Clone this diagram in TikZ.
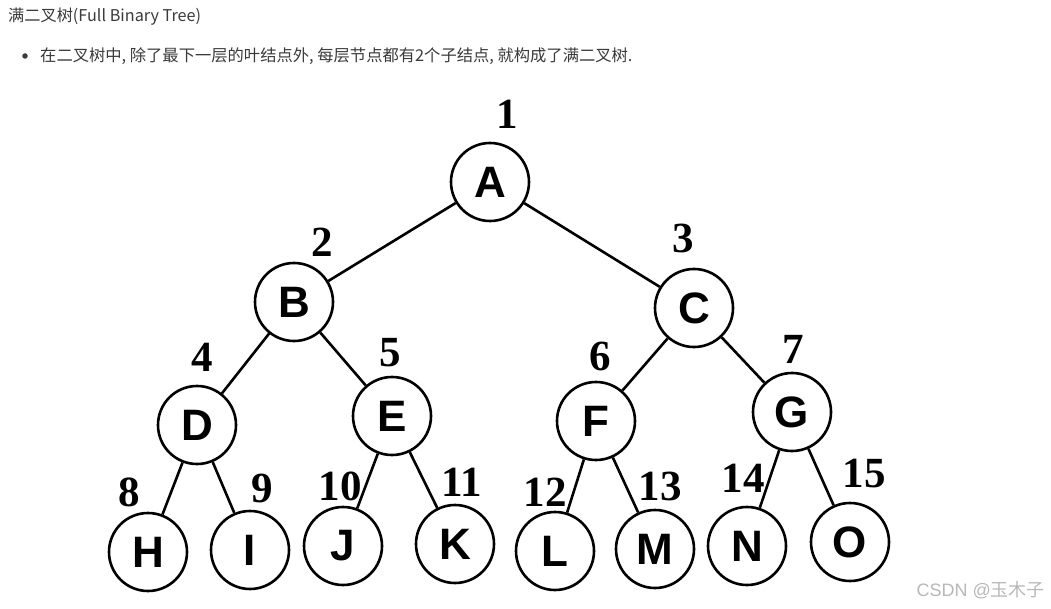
\documentclass[tikz,border=0pt]{standalone}
\usepackage{fontspec}
\setmainfont{Liberation Serif}
\newfontfamily\cjk{Noto Sans CJK SC}
\newfontfamily\arialb{Liberation Sans}[BoldFont={Liberation Sans Bold}]
\newfontfamily\timesb{Liberation Serif Bold}
\definecolor{hdr}{HTML}{3A3A3A}
\definecolor{wm}{HTML}{B8B8B8}
\begin{document}
\begin{tikzpicture}[x=1pt,y=-1pt,
  tn/.style={circle,draw=black,line width=2.6pt,minimum size=78pt,inner sep=0pt,fill=white,
    font=\arialb\bfseries\fontsize{44}{44}\selectfont},
  num/.style={font=\timesb\fontsize{43}{43}\selectfont,inner sep=0pt},
  edge/.style={line width=2.6pt,black}]
\useasboundingbox[fill=white] (0,0) rectangle (1051,609);
\node[anchor=west,text=hdr,font=\cjk\fontsize{16.2}{16}\selectfont,inner sep=0pt] (title) at (8,17) {满二叉树(Full Binary Tree)};
\node[circle,fill=hdr,inner sep=0pt,minimum size=5.5pt] (bul) at (25,56) {};
\node[anchor=west,text=hdr,font=\cjk\fontsize{16.3}{16}\selectfont,inner sep=0pt] (desc) at (40,56) {在二叉树中, 除了最下一层的叶结点外, 每层节点都有2个子结点, 就构成了满二叉树.};
% nodes
\node[tn] (A) at (490,182) {A};
\node[tn] (B) at (294,302) {B};
\node[tn] (C) at (694,308) {C};
\node[tn] (D) at (197,425) {D};
\node[tn] (E) at (392,416) {E};
\node[tn] (F) at (596,421) {F};
\node[tn] (G) at (792,412) {G};
\node[tn] (H) at (148,552) {H};
\node[tn] (I) at (250,550) {I};
\node[tn] (J) at (343,546) {J};
\node[tn] (K) at (455,544) {K};
\node[tn] (L) at (555,551) {L};
\node[tn] (M) at (655,549) {M};
\node[tn] (N) at (747,546) {N};
\node[tn] (O) at (850,542) {O};
% edges
\draw[edge] (A) -- (B);
\draw[edge] (A) -- (C);
\draw[edge] (B) -- (D);
\draw[edge] (B) -- (E);
\draw[edge] (C) -- (F);
\draw[edge] (C) -- (G);
\draw[edge] (D) -- (H);
\draw[edge] (D) -- (I);
\draw[edge] (E) -- (J);
\draw[edge] (E) -- (K);
\draw[edge] (F) -- (L);
\draw[edge] (F) -- (M);
\draw[edge] (G) -- (N);
\draw[edge] (G) -- (O);
% numbers
\node[num] (n1) at (507,114) {1};
\node[num] (n2) at (322,242) {2};
\node[num] (n3) at (683,238) {3};
\node[num] (n4) at (202,357) {4};
\node[num] (n5) at (390,353) {5};
\node[num] (n6) at (600,356) {6};
\node[num] (n7) at (793,349) {7};
\node[num] (n8) at (129,492) {8};
\node[num] (n9) at (262,488) {9};
\node[num] (n10) at (340,486) {10};
\node[num] (n11) at (462,482) {11};
\node[num] (n12) at (545,492) {12};
\node[num] (n13) at (660,486) {13};
\node[num] (n14) at (743,478) {14};
\node[num] (n15) at (864,474) {15};
% watermark
\node[anchor=east,text=wm,inner sep=0pt] (wmk) at (1045,590) {{\arialb\fontsize{18}{18}\selectfont CSDN @}{\cjk\fontsize{18}{18}\selectfont 玉木子}};
\end{tikzpicture}
\end{document}
